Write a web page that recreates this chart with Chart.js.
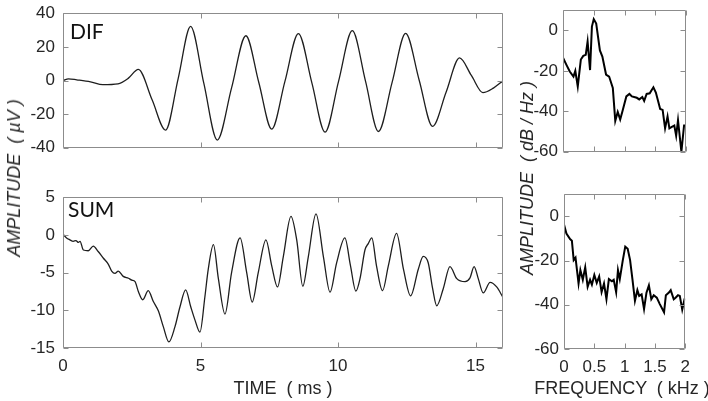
<!DOCTYPE html>
<html>
<head>
<meta charset="utf-8">
<script src="https://cdn.jsdelivr.net/npm/chart.js@4.4.1/dist/chart.umd.min.js"></script>
<style>
body { margin: 0; background: #fff; width: 708px; height: 401px; position: relative; overflow: hidden;
       font-family: "Liberation Sans", Arial, sans-serif; color: #262626; }
canvas { position: absolute; }
.lab { position: absolute; white-space: pre; font-size: 18px; line-height: 1; }
.rot { transform: translate(-50%, -50%) rotate(-90deg); font-style: italic; }
.hor { transform: translate(-50%, -50%); }
.tag { position: absolute; font-family: Lato, sans-serif; font-size: 21px; line-height: 1; color: #111; }
</style>
</head>
<body>
<canvas id="dif" width="513" height="171" style="left:0;top:-5px"></canvas>
<canvas id="sum" width="513" height="222" style="left:0;top:179px"></canvas>
<canvas id="difSpec" width="173" height="172" style="left:523px;top:-5px"></canvas>
<canvas id="sumSpec" width="174" height="222" style="left:524px;top:179px"></canvas>

<div class="tag" style="left:70px;top:20px">DIF</div>
<div class="tag" style="left:68px;top:198px">SUM</div>
<div class="lab hor" style="left:283px;top:388px">TIME  ( ms )</div>
<div class="lab hor" style="left:622px;top:388px">FREQUENCY  ( kHz )</div>
<div class="lab rot" style="left:14px;top:178px">AMPLITUDE  ( µV )</div>
<div class="lab rot" style="left:527px;top:178px">AMPLITUDE  ( dB / Hz )</div>

<script>
// DIF waveform (µV) vs time (ms)
const difTime  = [0, 0.2, 0.5, 1.0, 1.45, 2.0, 2.38, 2.74, 3.24, 3.73, 4.19, 4.64, 5.12, 5.61, 6.13, 6.65, 7.12, 7.59, 8.07, 8.56,
                  9.05, 9.53, 10.02, 10.52, 11.0, 11.47, 11.97, 12.46, 12.95, 13.44, 13.93, 14.42, 14.85, 15.27, 15.65, 16];
const difValue = [0, 1, 0.4, -0.8, -2.5, -2.0, 1.4, 6.6, -11.5, -29.5, 1.3, 32.2, -1.6, -35.4, -4.4, 26.6, -1.2, -28.9, -0.5, 27.9,
                  -1.4, -30.7, -0.5, 29.6, -0.4, -30.3, -1, 28.0, 0.3, -27.3, -7, 13.4, 3, -7.2, -4.5, -0.2];

// SUM waveform (µV) vs time (ms)
const sumTime  = [0, 0.13, 0.25, 0.37, 0.47, 0.56, 0.62, 0.74, 0.92, 1.10, 1.28, 1.47, 1.65, 1.77, 1.89, 2.01, 2.19, 2.38, 2.5, 2.62,
                  2.74, 2.9, 3.1, 3.28, 3.47, 3.65, 3.85, 4.07, 4.25, 4.46, 4.65, 4.8, 4.98, 5.16, 5.28, 5.47, 5.65, 5.89, 6.13, 6.44,
                  6.68, 6.88, 7.1, 7.38, 7.59, 7.8, 8.01, 8.29, 8.5, 8.72, 8.92, 9.2, 9.47, 9.71, 9.95, 10.25, 10.45, 10.65, 10.8, 10.98,
                  11.1, 11.23, 11.4, 11.62, 11.83, 12.13, 12.38, 12.64, 12.92, 13.1, 13.28, 13.44, 13.59, 13.83, 14.07, 14.32, 14.62, 14.8, 14.95, 15.1,
                  15.28, 15.53, 15.77, 16];
const sumValue = [0.1, -0.4, -0.65, -0.85, -0.75, -1.0, -0.85, -2.0, -2.1, -1.5, -2.2, -3.1, -3.9, -4.8, -5.1, -4.8, -5.5, -5.75, -6.0, -6.2,
                  -7.5, -8.6, -7.4, -8.8, -10.1, -12.2, -14.2, -12.2, -9.6, -7.3, -9.6, -11.3, -12.9, -8.2, -4.6, -1.3, -5.8, -10.5, -5.0, -0.4,
                  -5.0, -8.9, -5.0, -0.65, -4.1, -6.9, -2.9, 2.45, -0.7, -6.8, -2.9, 2.8, -2.9, -7.6, -3.7, -0.4, -4.0, -7.45, -5.8, -2.0,
                  -1.15, -0.4, -4.1, -7.4, -4.1, 0.2, -4.55, -8.1, -4.55, -2.85, -3.7, -7.1, -9.4, -7.1, -4.2, -5.8, -6.2, -5.7, -4.2, -5.8,
                  -7.7, -6.3, -6.9, -8.3];

// spectra (dB/Hz) vs frequency (kHz)
const difFreq = [0, 0.06, 0.11, 0.17, 0.2, 0.24, 0.29, 0.33, 0.37, 0.40, 0.44, 0.47, 0.5, 0.54, 0.6, 0.64, 0.70, 0.75, 0.81, 0.85,
                 0.89, 0.93, 0.97, 1.03, 1.08, 1.12, 1.2, 1.24, 1.29, 1.32, 1.36, 1.41, 1.47, 1.51, 1.58, 1.62, 1.66, 1.7, 1.73, 1.77,
                 1.81, 1.84, 1.87, 1.925, 1.97];
const difSpec = [-13.5, -17.3, -20.3, -22.8, -20, -27.7, -14.4, -12.6, -12.1, -5.5, -19.6, 1.9, 5.6, 3.4, -9.9, -12.9, -21.8, -22.8, -28.4, -44.7,
                 -40.3, -44, -39.6, -32.6, -31.4, -32.6, -33.3, -34.1, -32.9, -34.8, -31.4, -31.1, -28.1, -30.7, -38.8, -39.3, -48.4, -42.5, -48.4, -47.7,
                 -47, -52.1, -44.4, -60, -46.5];
const sumFreq = [0, 0.04, 0.1, 0.13, 0.16, 0.19, 0.24, 0.27, 0.31, 0.35, 0.39, 0.43, 0.46, 0.5, 0.54, 0.58, 0.62, 0.66, 0.7, 0.74,
                 0.79, 0.82, 0.86, 0.89, 0.92, 0.97, 1.01, 1.05, 1.09, 1.13, 1.17, 1.21, 1.24, 1.28, 1.32, 1.36, 1.4, 1.44, 1.48, 1.53,
                 1.58, 1.65, 1.68, 1.73, 1.76, 1.81, 1.84, 1.88, 1.91, 1.95, 1.99];
const sumSpec = [-3.7, -7.8, -10.3, -11, -19.8, -18.7, -30.4, -24.3, -28.7, -23.1, -31.9, -28.7, -30.9, -26.5, -30.1, -27.2, -34.3, -30.4, -37.5, -28.4,
                 -29.4, -28.7, -34.3, -24.3, -28.4, -19.8, -13.7, -14.7, -19.8, -28.7, -38.2, -33.4, -36, -35.3, -41.9, -34.5, -31.2, -37.5, -35.7, -36.8,
                 -39.7, -43.4, -35.7, -34.5, -33.4, -37.5, -36.8, -35.7, -36, -42.2, -37.2];

// tick labels
const timeTicks = [0, 5, 10, 15];
const difTicks = [-40, -20, 0, 20, 40];
const sumTicks = [-15, -10, -5, 0, 5];
const freqTicks = [0, 0.5, 1, 1.5, 2];
const dbTicks = [-60, -40, -20, 0];

const boxColor = "#8c8c8c";
const textColor = "#262626";
const tickFont = { family: "'Liberation Sans', Arial, sans-serif", size: 17 };

// matlab style box with inward ticks on all four sides
const boxTicks = {
    id: "boxTicks",
    afterDatasetsDraw(chart) {
        const ctx = chart.ctx, a = chart.chartArea;
        const x = chart.scales.x, y = chart.scales.y;
        const L = Math.round(a.left) + 0.5, R = Math.round(a.right) - 0.5;
        const T = Math.round(a.top) + 0.5, B = Math.round(a.bottom) - 0.5;
        ctx.save();
        ctx.strokeStyle = boxColor;
        ctx.lineWidth = 1;
        ctx.beginPath();
        x.ticks.forEach(t => {
            const px = Math.round(x.getPixelForValue(t.value)) + 0.5;
            ctx.moveTo(px, B); ctx.lineTo(px, B - 5);
            ctx.moveTo(px, T); ctx.lineTo(px, T + 5);
        });
        y.ticks.forEach(t => {
            const py = Math.round(y.getPixelForValue(t.value)) + 0.5;
            ctx.moveTo(L, py); ctx.lineTo(L + 5, py);
            ctx.moveTo(R, py); ctx.lineTo(R - 5, py);
        });
        ctx.rect(L, T, R - L, B - T);
        ctx.stroke();
        ctx.restore();
    }
};

function panel(id, xs, ys, o) {
    new Chart(document.getElementById(id), {
        type: "line",
        data: {
            datasets: [{
                data: xs.map((v, i) => ({ x: v, y: ys[i] })),
                borderColor: o.color,
                borderWidth: o.width,
                pointRadius: 0,
                fill: false,
                cubicInterpolationMode: o.smooth ? "monotone" : "default",
                tension: 0
            }]
        },
        options: {
            responsive: false,
            animation: false,
            events: [],
            layout: { padding: { top: 12, right: 10, left: 0, bottom: 0 } },
            plugins: { legend: { display: false }, tooltip: { enabled: false } },
            scales: {
                x: {
                    type: "linear", min: o.xMin, max: o.xMax,
                    afterBuildTicks: s => { s.ticks = o.xTicks.map(v => ({ value: v })); },
                    afterFit: s => { s.height = o.xH; },
                    grid: { display: false, drawTicks: false },
                    border: { display: false },
                    ticks: { display: o.xLabels, padding: 8, color: textColor, font: tickFont, maxRotation: 0,
                             callback: v => String(v) }
                },
                y: {
                    type: "linear", min: o.yMin, max: o.yMax,
                    afterBuildTicks: s => { s.ticks = o.yTicks.map(v => ({ value: v })); },
                    afterFit: s => { s.width = o.yW; },
                    grid: { display: false, drawTicks: false },
                    border: { display: false },
                    ticks: { padding: o.yPad, color: textColor, font: tickFont, callback: v => String(v) }
                }
            }
        },
        plugins: [boxTicks]
    });
}

panel("dif", difTime, difValue, {
    color: "#1e1e1e", width: 1.3, smooth: true,
    xMin: 0, xMax: 16, xTicks: timeTicks, xLabels: false, xH: 2,
    yMin: -40, yMax: 40, yTicks: difTicks, yW: 63, yPad: 8
});
panel("sum", sumTime, sumValue, {
    color: "#1e1e1e", width: 1.3, smooth: true,
    xMin: 0, xMax: 16, xTicks: timeTicks, xLabels: true, xH: 53,
    yMin: -15, yMax: 5, yTicks: sumTicks, yW: 63, yPad: 8
});
panel("difSpec", difFreq, difSpec, {
    color: "#000", width: 2, smooth: false,
    xMin: 0, xMax: 2, xTicks: freqTicks, xLabels: false, xH: 2,
    yMin: -60, yMax: 10, yTicks: dbTicks, yW: 40, yPad: 5
});
panel("sumSpec", sumFreq, sumSpec, {
    color: "#000", width: 2, smooth: false,
    xMin: 0, xMax: 2, xTicks: freqTicks, xLabels: true, xH: 52,
    yMin: -60, yMax: 10, yTicks: dbTicks, yW: 40, yPad: 5
});
</script>
</body>
</html>
